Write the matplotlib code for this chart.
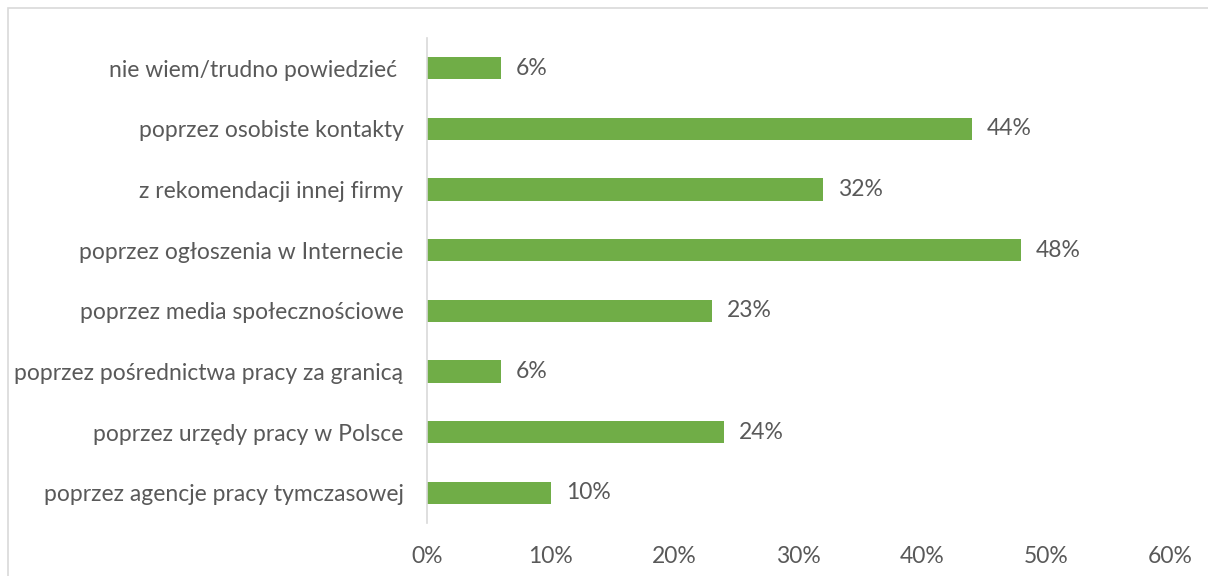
import matplotlib.pyplot as plt
from matplotlib.patches import Rectangle
from matplotlib.ticker import FuncFormatter

# survey answers, listed bottom to top as they appear on the chart
categories = [
    'poprzez agencje pracy tymczasowej',
    'poprzez urzędy pracy w Polsce',
    'poprzez pośrednictwa pracy za granicą',
    'poprzez media społecznościowe',
    'poprzez ogłoszenia w Internecie',
    'z rekomendacji innej firmy',
    'poprzez osobiste kontakty',
    'nie wiem/trudno powiedzieć ',
]
shares = [10, 24, 6, 23, 48, 32, 44, 6]
x_ticks = [0, 10, 20, 30, 40, 50, 60]

bar_color = '#70AD47'
text_color = '#595959'
line_color = '#D9D9D9'
fsize = 16.5

plt.rcParams['font.family'] = ['Lato', 'DejaVu Sans']

fig = plt.figure(figsize=(12.08, 5.76), dpi=100)
ax = fig.add_axes([0.3535, 0.0915, 0.615, 0.843])

# chart area outline (only top and left edges are visible)
fig.patches.append(Rectangle((8 / 1208, -0.1), 1.2, (576 - 8) / 576 + 0.1,
                             transform=fig.transFigure, fill=False,
                             edgecolor='#D9D9D9', linewidth=1.2))

ypos = range(len(categories))
ax.barh(ypos, shares, height=0.37, color=bar_color)

for y, v in zip(ypos, shares):
    ax.text(v + 1.2, y, f'{v}%', va='center', ha='left',
            fontsize=fsize, color=text_color)

ax.set_xlim(0, 60)
ax.set_ylim(-0.5, len(categories) - 0.5)
ax.set_xticks(x_ticks)
ax.xaxis.set_major_formatter(FuncFormatter(lambda v, _: f'{v:.0f}%'))
ax.set_yticks(list(ypos))
ax.set_yticklabels(categories)

for side in ['top', 'right', 'bottom']:
    ax.spines[side].set_visible(False)
ax.spines['left'].set_color(line_color)
ax.spines['left'].set_linewidth(1.2)

ax.tick_params(axis='x', length=0, pad=16, labelsize=fsize, labelcolor=text_color)
ax.tick_params(axis='y', length=0, pad=17, labelsize=fsize, labelcolor=text_color)

fig.savefig('out.png', dpi=100)
